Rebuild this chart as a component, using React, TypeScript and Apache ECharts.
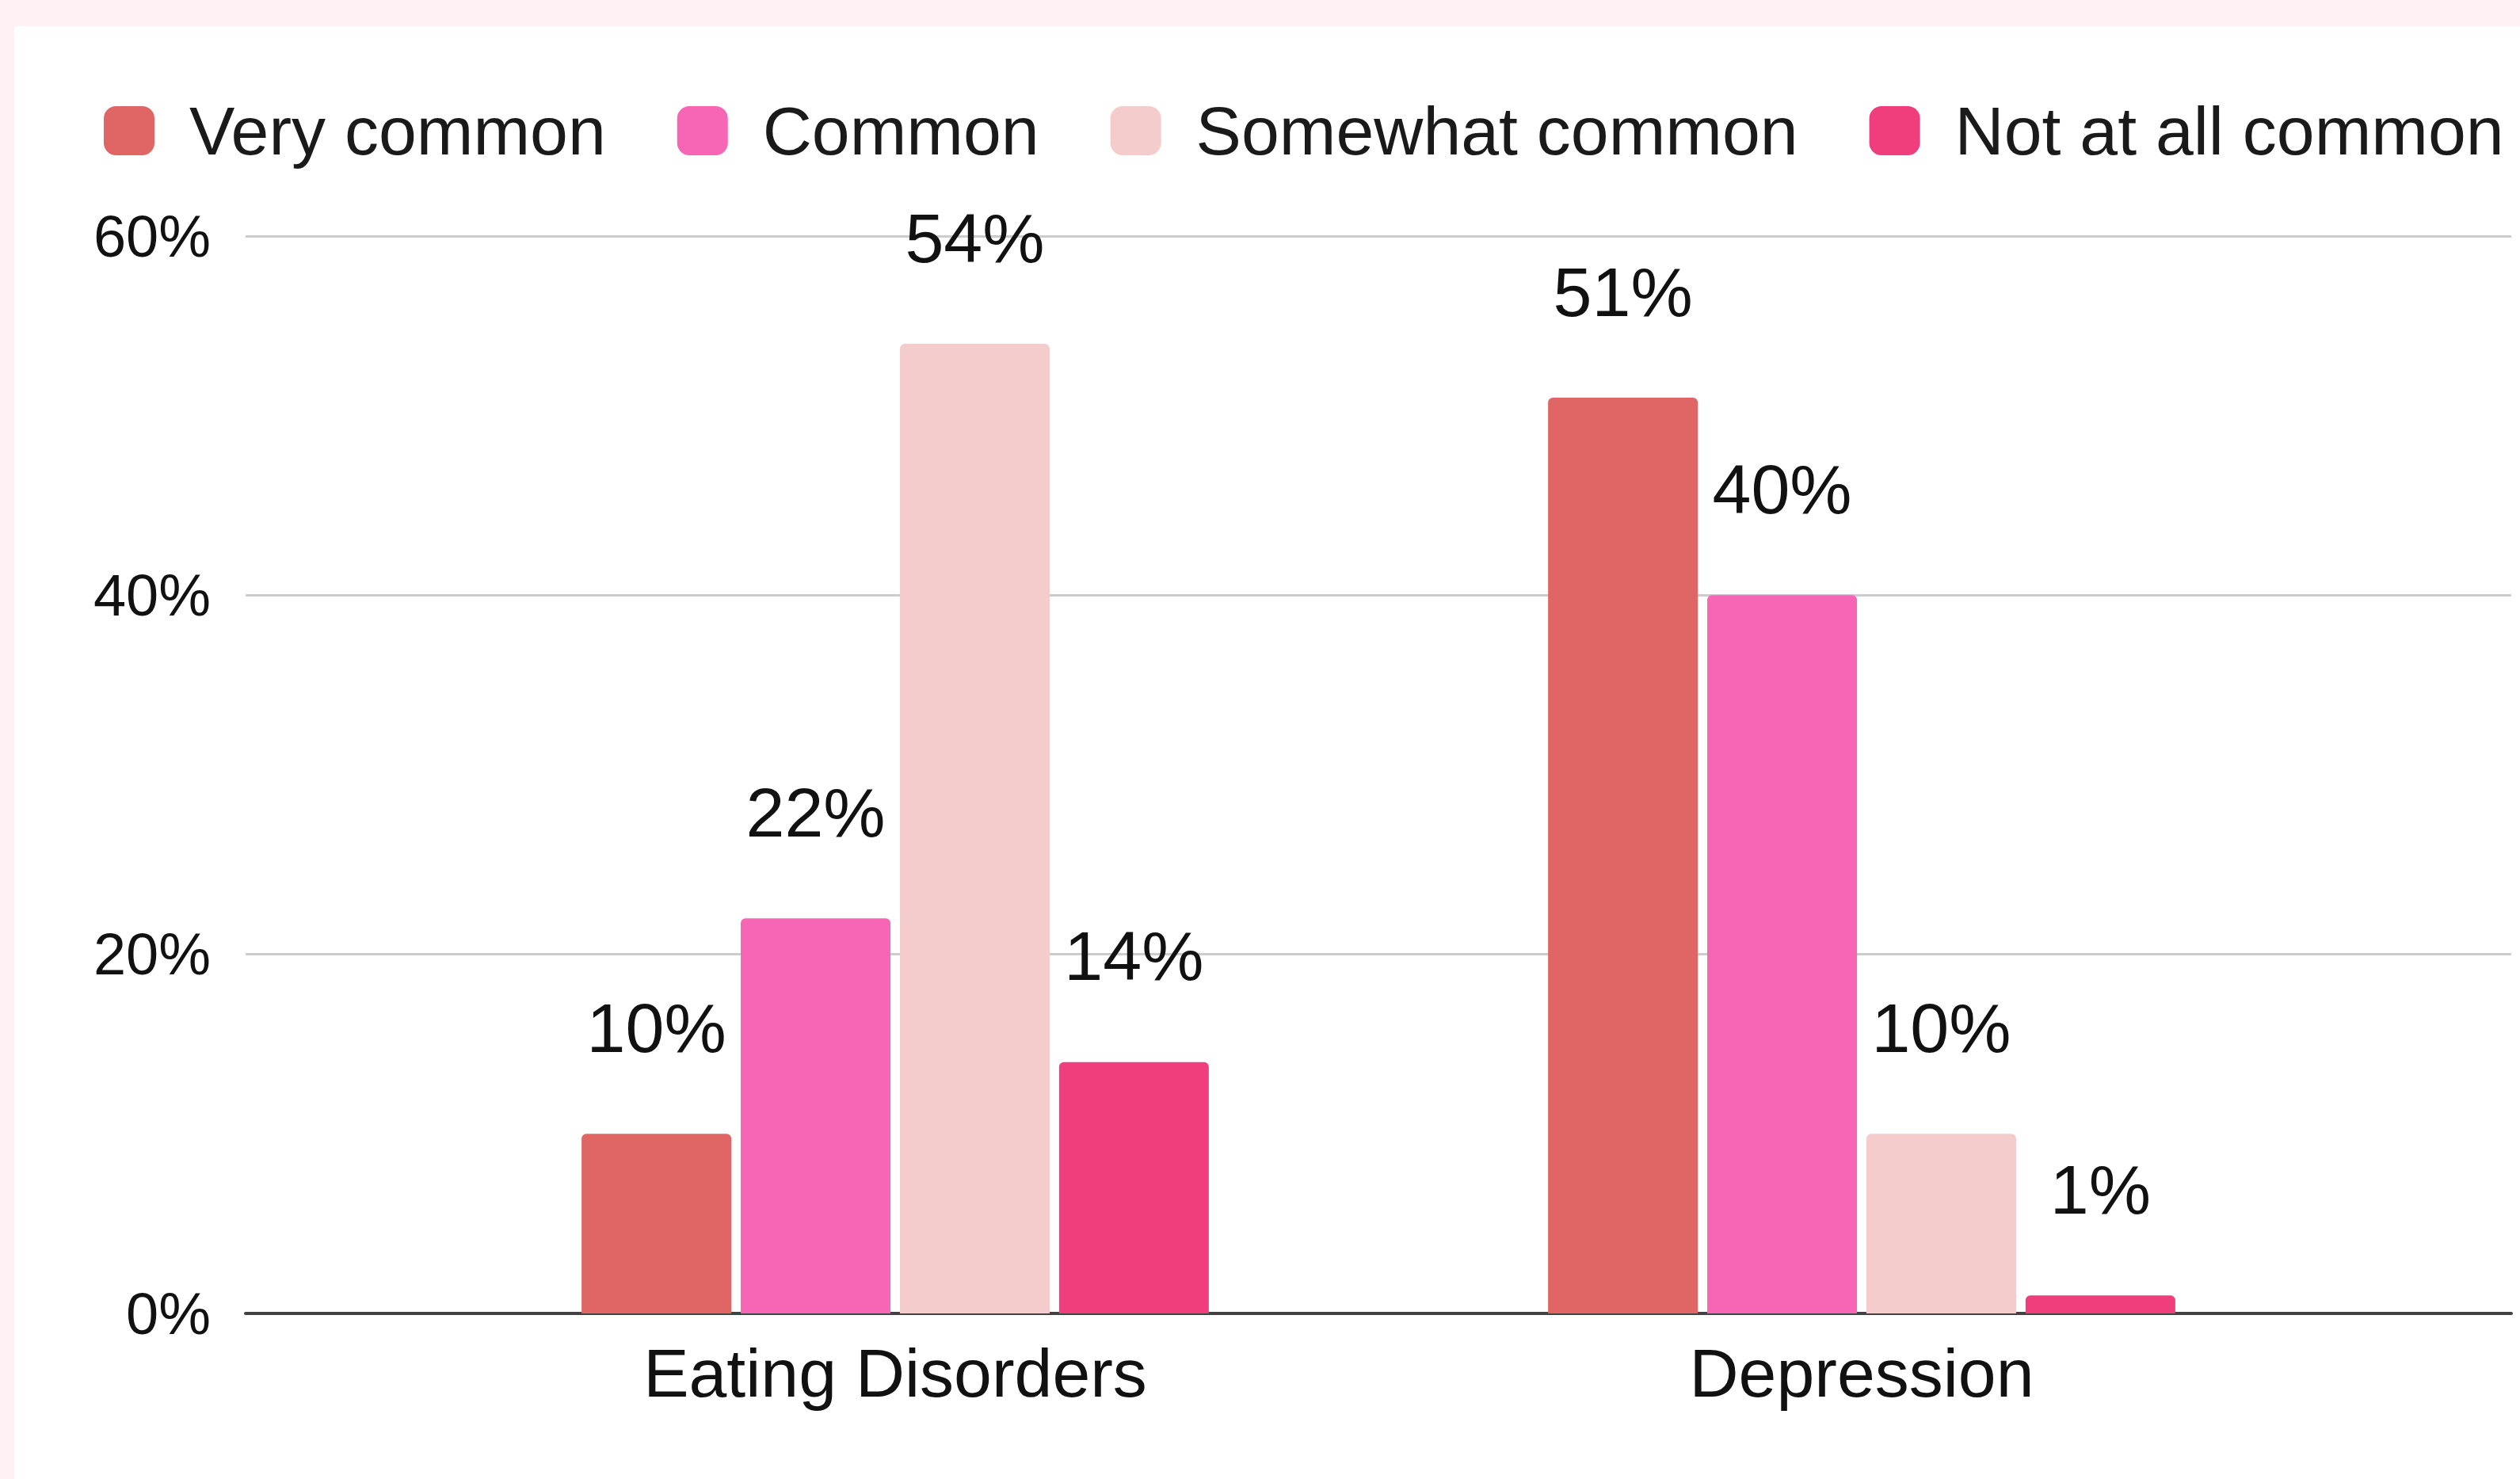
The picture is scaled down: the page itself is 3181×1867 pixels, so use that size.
import React, { useEffect, useRef } from "react";
import * as echarts from "echarts";

// Categories, series and their values (percent)
const categories = ["Eating Disorders", "Depression"];
const seriesNames = ["Very common", "Common", "Somewhat common", "Not at all common"];
const veryCommon = [10, 51];
const common = [22, 40];
const somewhatCommon = [54, 10];
const notAtAllCommon = [14, 1];
const seriesColors = ["#e06666", "#f765b5", "#f4cccc", "#f03d7b"];

// Y axis range and tick step (percent)
const yMin = 0;
const yMax = 60;
const yStep = 20;

const FONT = "'Liberation Sans', Arial, Helvetica, sans-serif";

export default function App() {
  const ref = useRef<HTMLDivElement>(null);

  useEffect(() => {
    if (!ref.current) return;
    const chart = echarts.init(ref.current, undefined, { renderer: "svg" });
    const values = [veryCommon, common, somewhatCommon, notAtAllCommon];

    chart.setOption({
      animation: false,
      backgroundColor: "#ffffff",
      textStyle: { fontFamily: FONT },
      legend: {
        left: 108,
        top: 84,
        itemWidth: 64,
        itemHeight: 62,
        itemGap: 90,
        icon: "roundRect",
        data: seriesNames,
        textStyle: {
          fontFamily: FONT,
          fontSize: 86,
          color: "#1a1a1a",
          padding: [0, 0, 0, 39],
        },
      },
      grid: [
        // full-width grid carrying the percent axis, gridlines and baseline
        { left: 292, right: 11, top: 265, bottom: 209 },
        // inner grid carrying the category bands and bars
        { left: 502, right: 221, top: 265, bottom: 209 },
      ],
      xAxis: [
        {
          type: "value",
          gridIndex: 0,
          min: 0,
          max: 1,
          axisLine: { show: true, lineStyle: { color: "#424242", width: 4 } },
          axisTick: { show: false },
          axisLabel: { show: false },
          splitLine: { show: false },
        },
        {
          type: "category",
          gridIndex: 1,
          data: categories,
          axisLine: { show: false },
          axisTick: { show: false },
          axisLabel: {
            fontFamily: FONT,
            fontSize: 86,
            color: "#111111",
            margin: 32,
          },
        },
      ],
      yAxis: [
        {
          type: "value",
          gridIndex: 0,
          min: yMin,
          max: yMax,
          interval: yStep,
          axisLine: { show: false },
          axisTick: { show: false },
          axisLabel: {
            fontFamily: FONT,
            fontSize: 74,
            color: "#111111",
            margin: 44,
            formatter: "{value}%",
          },
          splitLine: { lineStyle: { color: "#cccccc", width: 3 } },
        },
        {
          type: "value",
          gridIndex: 1,
          min: yMin,
          max: yMax,
          interval: yStep,
          show: false,
          splitLine: { show: false },
        },
      ],
      series: seriesNames.map((name, i) => ({
        name,
        type: "bar",
        xAxisIndex: 1,
        yAxisIndex: 1,
        data: values[i],
        barWidth: 189,
        barGap: "6.3%",
        itemStyle: { color: seriesColors[i], borderRadius: [6, 6, 0, 0] },
        label: {
          show: true,
          position: "top",
          distance: 90,
          formatter: "{c}%",
          fontFamily: FONT,
          fontSize: 88,
          color: "#111111",
        },
      })),
    });

    return () => chart.dispose();
  }, []);

  return (
    <div
      style={{
        position: "fixed",
        left: 0,
        top: 0,
        width: 3181,
        height: 1867,
        background: "#fff0f4",
      }}
    >
      <div
        ref={ref}
        style={{
          position: "absolute",
          left: 18,
          top: 33,
          width: 3163,
          height: 1834,
          background: "#ffffff",
        }}
      />
    </div>
  );
}
